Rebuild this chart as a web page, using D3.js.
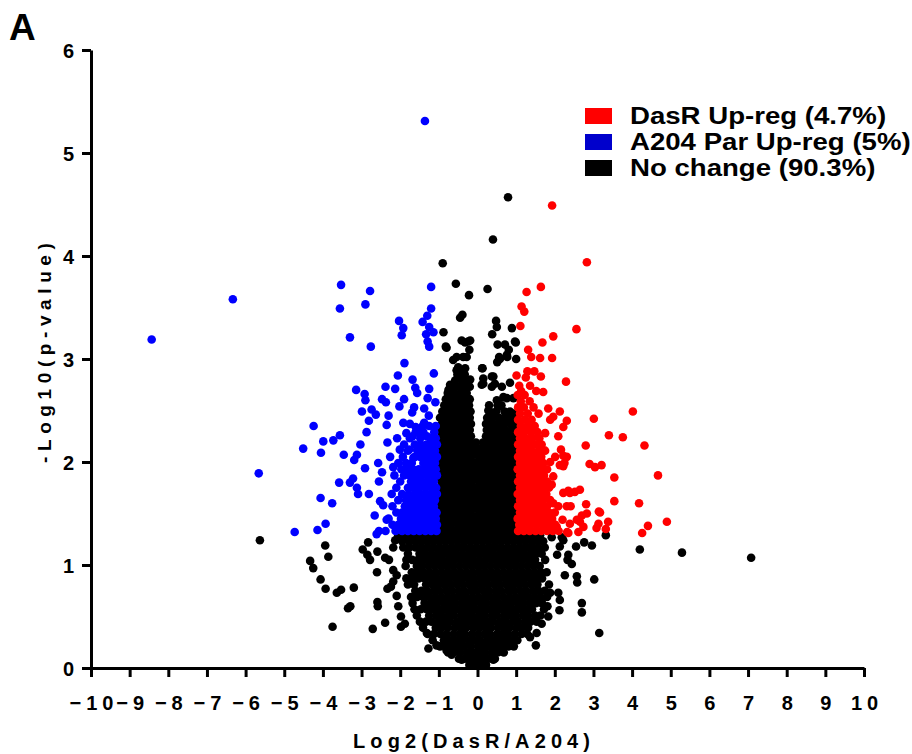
<!DOCTYPE html>
<html><head><meta charset="utf-8">
<script src="https://cdn.jsdelivr.net/npm/d3@7/dist/d3.min.js"></script>
<style>body{margin:0;background:#fff}svg{display:block}</style>
</head><body>
<svg id="chart" width="912" height="754"></svg>
<script>
// ---------- DATA ----------
const xTickValues = [-10,-9,-8,-7,-6,-5,-4,-3,-2,-1,0,1,2,3,4,5,6,7,8,9,10];
const yTickValues = [0,1,2,3,4,5,6];
const legendLabels = ["DasR Up-reg (4.7%)", "A204 Par Up-reg (5%)", "No change (90.3%)"];
const xTitle = "Log2(DasR/A204)";
const yTitle = "-Log10(p-value)";

// Up-regulated in DasR (red): scattered points [log2FC, -log10 p]
const redPoints = [
[1.93,4.49],[2.83,3.94],[1.64,3.70],[1.27,3.65],[1.14,3.51],[1.21,3.46],[1.11,3.32],[2.56,3.29],[1.96,3.22],[1.68,3.16],
[1.31,3.09],[1.39,3.02],[1.62,3.01],[1.93,3.01],[2.29,2.78],[1.01,2.84],[1.25,2.82],[1.29,2.88],[1.47,2.88],[1.64,2.83],
[1.52,2.69],[1.70,2.68],[1.13,2.69],[4.02,2.49],[3.01,2.42],[3.40,2.26],[3.76,2.24],[4.32,2.16],[2.80,2.16],[2.90,1.98],
[3.04,1.95],[3.21,1.97],[4.67,1.87],[3.54,1.85],[3.54,1.62],[4.18,1.60],[4.90,1.42],[4.41,1.38],[4.26,1.31],[3.14,1.52],
[3.38,1.42],[3.32,1.35],[3.08,1.36],[1.83,2.52],[2.13,2.49],[2.31,2.40],[2.22,2.34],[1.96,2.44],[1.88,2.41],[2.09,2.25],
[1.75,2.28],[2.22,2.06],[2.31,2.05],[2.01,2.05],[2.16,2.12],[2.22,1.96],[1.96,1.86],[1.92,1.78],[2.22,1.70],[2.35,1.72],
[2.52,1.71],[2.65,1.73],[2.81,1.59],[3.17,1.51],[2.41,1.57],[2.31,1.57],[2.65,1.42],[2.74,1.37],[2.61,1.32],[2.35,1.31],
[2.20,1.44],[2.01,1.39],[2.83,1.50],[2.70,1.48],[2.57,1.44],[2.39,1.40],[2.32,1.32],[2.05,1.37],[1.88,1.48],[1.96,1.60],
[2.09,1.57],[2.13,1.97],[2.25,1.99],[1.88,2.00],[3.13,1.40],[2.39,1.70]
];
// dense red band: [y, x values]
const redRows = [
[1.33,[1.05,1.2,1.35,1.5,1.65,1.8,1.95,2.1]],
[1.39,[1.08,1.23,1.38,1.53,1.68,1.83,2.0]],
[1.45,[1.04,1.18,1.33,1.48,1.63,1.78,1.93]],
[1.51,[1.1,1.25,1.4,1.55,1.7,1.85,2.0]],
[1.57,[1.05,1.2,1.35,1.5,1.65,1.8]],
[1.63,[1.1,1.25,1.4,1.55,1.7,1.88]],
[1.69,[1.04,1.18,1.33,1.48,1.63,1.78]],
[1.75,[1.1,1.25,1.4,1.55,1.7,1.85]],
[1.81,[1.05,1.2,1.35,1.5,1.65,1.8]],
[1.87,[1.1,1.25,1.4,1.55,1.72]],
[1.93,[1.04,1.18,1.33,1.48,1.63,1.8]],
[1.99,[1.1,1.25,1.4,1.55,1.7]],
[2.05,[1.05,1.2,1.35,1.5,1.65]],
[2.11,[1.1,1.25,1.4,1.58,1.75]],
[2.17,[1.05,1.2,1.35,1.5,1.66]],
[2.23,[1.1,1.25,1.42,1.6]],
[2.29,[1.05,1.2,1.38,1.55]],
[2.35,[1.12,1.3,1.48]],
[2.41,[1.05,1.22,1.4]],
[2.47,[1.1,1.3,1.58]],
[2.53,[1.05,1.2,1.45]],
[2.59,[1.12,1.35]],
[2.65,[1.04,1.22]],
[2.74,[1.08,1.36]]
];

// Up-regulated in A204 parental (blue)
const bluePoints = [
[-1.36,5.31],[-8.43,3.19],[-6.33,3.58],[-5.66,1.89],[-4.73,1.32],[-4.51,2.13],[-4.24,2.35],[-4.14,1.34],[-4.06,1.65],[-4.05,2.09],
[-3.99,2.20],[-3.93,1.40],[-3.76,1.60],[-3.73,2.21],[-3.58,1.80],[-3.56,2.26],[-3.53,3.72],[-3.56,3.49],[-3.46,2.07],[-3.30,3.21],
[-3.30,1.80],[-3.22,1.84],[-3.19,2.02],[-3.14,2.70],[-3.12,2.07],[-3.12,1.75],[-3.09,1.69],[-3.03,2.17],[-2.99,2.49],[-2.92,2.66],
[-2.91,1.94],[-2.90,3.53],[-2.90,2.60],[-2.87,2.29],[-2.81,2.40],[-2.81,1.69],[-2.78,3.66],[-2.76,3.12],[-2.74,2.51],[-2.66,1.48],
[-2.63,2.46],[-2.61,1.30],[-2.57,1.99],[-2.55,1.81],[-2.52,1.62],[-2.47,2.61],[-2.47,1.90],[-2.44,1.58],[-2.38,2.73],[-2.37,2.58],
[-2.35,2.36],[-2.35,1.44],[-2.33,2.19],[-2.30,2.45],[-2.26,2.05],[-2.18,1.95],[-2.13,2.71],[-2.08,2.23],[-2.06,2.84],[-2.03,3.37],
[-2.02,2.54],[-2.01,2.12],[-1.96,3.23],[-1.92,3.30],[-1.92,2.38],[-1.90,2.61],[-1.89,2.96],[-1.84,2.28],[-1.77,2.12],[-1.75,2.37],
[-1.69,2.48],[-1.68,2.80],[-1.68,2.25],[-1.66,2.04],[-1.64,2.53],[-1.61,2.72],[-1.60,2.34],[-1.56,2.67],[-1.56,2.12],[-1.50,2.29],
[-1.42,3.36],[-1.38,2.52],[-1.38,2.38],[-1.36,2.12],[-1.33,3.24],[-1.31,2.25],[-1.30,3.42],[-1.29,3.17],[-1.29,2.62],[-1.26,2.45],
[-1.25,3.31],[-1.25,3.12],[-1.25,2.71],[-1.20,3.70],[-1.20,3.49],[-1.14,3.26],[-1.13,2.86],[-1.09,2.58]
];
const blueRows = [
[1.33,[-2.55,-2.38,-2.12,-1.95,-1.8,-1.65,-1.5,-1.35,-1.2,-1.06]],
[1.39,[-2.2,-2.05,-1.9,-1.75,-1.6,-1.45,-1.3,-1.15,-1.05]],
[1.45,[-2.3,-1.98,-1.83,-1.68,-1.53,-1.38,-1.23,-1.08]],
[1.51,[-2.1,-1.95,-1.8,-1.65,-1.5,-1.35,-1.2,-1.06]],
[1.57,[-2.2,-1.88,-1.72,-1.58,-1.43,-1.28,-1.13]],
[1.63,[-2.05,-1.85,-1.7,-1.55,-1.4,-1.25,-1.1]],
[1.69,[-2.22,-1.95,-1.78,-1.62,-1.48,-1.33,-1.18,-1.05]],
[1.75,[-2.1,-1.8,-1.65,-1.5,-1.35,-1.2,-1.07]],
[1.81,[-2.0,-1.72,-1.58,-1.43,-1.28,-1.13]],
[1.87,[-2.15,-1.9,-1.75,-1.6,-1.45,-1.3,-1.15,-1.05]],
[1.93,[-1.97,-1.82,-1.67,-1.52,-1.37,-1.22,-1.08]],
[1.99,[-2.05,-1.85,-1.7,-1.4,-1.25,-1.1]],
[2.05,[-1.93,-1.62,-1.48,-1.33,-1.18,-1.05]],
[2.11,[-1.8,-1.55,-1.4,-1.25,-1.1]],
[2.17,[-1.9,-1.62,-1.47,-1.32,-1.17,-1.05]],
[2.23,[-1.75,-1.48,-1.22,-1.08]],
[2.29,[-1.6,-1.4,-1.12]],
[2.35,[-1.42,-1.25,-1.08]]
];

// No change (black)
const blackPoints = [
[0.79,4.57],[0.40,4.16],[-0.90,3.93],[-0.56,3.73],[-0.22,3.62],[0.26,3.68],[-0.45,3.40],[-0.39,3.43],[-0.88,3.26],[-0.82,3.12],
[0.48,3.37],[0.50,3.31],[0.38,3.24],[0.89,3.30],[0.99,3.16],[0.52,3.14],[0.71,3.14],[0.81,3.09],[0.58,3.00],[0.51,2.97],
[1.00,3.00],[0.76,3.04],[0.13,2.91],[-0.32,3.16],[-0.19,3.18],[-0.21,3.09],[-0.37,3.02],[-0.63,2.99],[-0.54,2.89],[-0.45,2.83],
[0.37,2.83],[0.45,2.76],[0.63,2.73],[0.84,2.77],[0.93,2.62],[0.67,2.63],[0.50,2.60],[0.15,2.76],[0.28,2.50],[-0.41,3.18],
[-0.24,3.17],[-0.28,3.02],[-0.54,3.02],[-0.50,2.92],[-0.32,2.91],[-0.41,2.88],[-0.50,2.83],[-0.19,2.80],[-0.28,2.73],[-0.71,2.75],
[-0.75,2.70],[-0.37,2.70],[0.12,2.91],[0.15,2.81],[0.11,2.75],[0.41,2.83],[0.37,2.73],[0.76,2.62],[0.93,2.47],[0.58,2.54],
[0.56,3.02],[0.77,3.02],[0.97,3.17],[-0.80,3.11],
[-5.63,1.24],[-3.94,1.19],[-3.86,1.08],[-4.33,1.04],[-4.25,0.97],[-4.06,0.86],[-3.93,0.77],[-3.64,0.73],[-3.53,0.76],[-3.20,0.78],
[-3.35,0.58],[-3.29,0.60],[-3.75,0.40],[-2.71,0.38],[-2.59,0.64],[-2.58,0.60],[-2.39,0.44],[-2.60,0.93],[-2.97,1.15],[-2.83,1.22],
[-2.78,1.05],[-2.85,1.10],[-2.59,1.13],[-2.39,1.07],[-2.29,1.05],[-2.33,0.77],[-2.24,0.79],[-2.09,0.70],[-2.05,0.60],[-1.98,0.50],
[-1.98,0.40],[-1.88,0.43],[-2.18,1.17],[-2.13,1.24],[-2.01,1.27],[-1.88,1.29],[-2.18,0.95],[-2.09,0.90],[-2.18,0.84],[-1.31,0.34],
[-1.27,0.19],[-1.06,0.22],[-0.80,0.17],[-0.67,0.13],[-0.41,0.08],
[3.32,1.29],[4.20,1.15],[5.29,1.12],[7.08,1.07],[3.02,0.86],[2.70,0.63],[2.70,0.54],[3.15,0.34],[2.57,0.89],[2.58,0.83],
[2.55,1.18],[2.76,1.22],[2.96,1.19],[2.35,1.10],[2.33,1.05],[2.44,1.01],[2.06,1.10],[2.12,0.56],[2.22,1.24],[2.13,1.18],
[1.92,1.27],[2.18,1.27],[2.26,0.90],[2.09,0.73],[2.13,0.66],[1.88,0.73],[1.81,0.60],[1.83,0.50],[1.66,0.43],[1.53,0.34],
[1.51,0.22],[1.36,0.30],[0.84,0.26],[0.58,0.16],[0.41,0.08]
];
const blackRows = [
[0.03,[-0.21,-0.07,0.08,0.22]],
[0.09,[-0.48,-0.33,-0.18,-0.02,0.13,0.29,0.45]],
[0.15,[-0.76,-0.61,-0.45,-0.28,-0.12,0.04,0.2,0.37,0.52,0.68]],
[0.21,[-0.97,-0.83,-0.66,-0.5,-0.34,-0.17,0.01,0.15,0.31,0.48,0.64,0.8,0.94]],
[0.27,[-1.16,-0.87,-0.71,-0.57,-0.4,-0.23,-0.09,0.07,0.25,0.41,0.55,0.71,0.89,1.03]],
[0.33,[-1.29,-1.13,-0.96,-0.8,-0.62,-0.46,-0.32,-0.14,0.02,0.18,0.32,0.5,0.66,0.8,0.97,1.14,1.29]],
[0.39,[-1.41,-1.08,-0.93,-0.77,-0.59,-0.43,-0.29,-0.11,0.05,0.21,0.35,0.53,0.69,0.83,1.01,1.15,1.31]],
[0.45,[-1.49,-1.33,-1.19,-1.01,-0.85,-0.71,-0.53,-0.37,-0.21,-0.05,0.11,0.27,0.41,0.59,0.73,0.91,1.05,1.23,1.37,1.53]],
[0.51,[-1.57,-1.25,-1.07,-0.93,-0.75,-0.61,-0.43,-0.27,-0.13,0.05,0.19,0.37,0.51,0.69,0.85,0.99,1.17,1.31,1.49,1.63]],
[0.57,[-1.63,-1.47,-1.31,-1.15,-0.99,-0.83,-0.67,-0.51,-0.35,-0.19,-0.03,0.13,0.29,0.45,0.61,0.77,0.93,1.09,1.25,1.41,1.72]],
[0.63,[-1.68,-1.37,-1.2,-1.05,-0.88,-0.72,-0.57,-0.4,-0.24,-0.09,0.08,0.23,0.4,0.55,0.72,0.87,1.04,1.19,1.36,1.51,1.67]],
[0.69,[-1.72,-1.56,-1.41,-1.25,-1.09,-0.93,-0.77,-0.61,-0.45,-0.29,-0.13,0.03,0.19,0.35,0.51,0.67,0.83,0.99,1.15,1.31,1.47,1.63,1.8]],
[0.75,[-1.61,-1.45,-1.3,-1.13,-0.98,-0.81,-0.66,-0.49,-0.34,-0.17,-0.02,0.15,0.3,0.47,0.62,0.79,0.94,1.11,1.26,1.43,1.58,1.74]],
[0.81,[-1.8,-1.64,-1.33,-1.17,-1.01,-0.85,-0.69,-0.53,-0.37,-0.21,-0.05,0.11,0.27,0.43,0.59,0.75,0.91,1.07,1.23,1.39,1.55,1.85]],
[0.87,[-1.84,-1.68,-1.52,-1.37,-1.2,-1.05,-0.88,-0.73,-0.56,-0.41,-0.24,-0.09,0.08,0.23,0.4,0.55,0.72,0.87,1.04,1.19,1.36,1.51,1.67]],
[0.93,[-1.7,-1.55,-1.4,-1.24,-1.08,-0.92,-0.76,-0.6,-0.44,-0.28,-0.12,0.04,0.2,0.36,0.52,0.68,0.84,1.0,1.16,1.32,1.48,1.64,1.79]],
[0.99,[-1.86,-1.57,-1.43,-1.27,-1.11,-0.95,-0.79,-0.63,-0.47,-0.31,-0.15,0.01,0.17,0.33,0.49,0.65,0.81,0.97,1.13,1.29,1.45,1.61]],
[1.05,[-1.84,-1.69,-1.54,-1.39,-1.23,-1.07,-0.91,-0.75,-0.59,-0.43,-0.27,-0.11,0.05,0.21,0.37,0.53,0.69,0.85,1.01,1.17,1.33,1.49,1.75]],
[1.11,[-1.8,-1.5,-1.35,-1.19,-1.03,-0.87,-0.71,-0.55,-0.39,-0.23,-0.07,0.09,0.25,0.41,0.57,0.73,0.89,1.05,1.21,1.37,1.52,1.66]],
[1.17,[-1.92,-1.76,-1.6,-1.44,-1.29,-1.13,-0.97,-0.81,-0.65,-0.49,-0.33,-0.17,-0.01,0.15,0.31,0.47,0.63,0.79,0.95,1.11,1.27,1.43,1.57,1.74]],
[1.23,[-1.95,-1.78,-1.62,-1.47,-1.31,-1.16,-1.0,-0.84,-0.68,-0.52,-0.36,-0.2,-0.04,0.12,0.28,0.44,0.6,0.76,0.92,1.08,1.24,1.4,1.56,1.7]],
[1.29,[-2.05,-1.86,-1.7,-1.55,-1.4,-1.24,-1.08,-0.93,-0.77,-0.61,-0.45,-0.29,-0.13,0.03,0.19,0.35,0.51,0.67,0.83,0.99,1.15,1.3,1.46,1.62]],
[1.35,[-0.99,-0.84,-0.68,-0.52,-0.36,-0.2,-0.05,0.09,0.24,0.4,0.56,0.72,0.88,0.99]],
[1.41,[-0.93,-0.77,-0.61,-0.45,-0.29,-0.14,0.02,0.17,0.33,0.49,0.65,0.81,0.96]],
[1.47,[-0.98,-0.83,-0.67,-0.51,-0.36,-0.2,-0.06,0.1,0.25,0.41,0.57,0.73,0.89,0.99]],
[1.53,[-0.94,-0.78,-0.62,-0.46,-0.3,-0.16,0.03,0.18,0.34,0.5,0.66,0.82,0.97]],
[1.59,[-0.99,-0.85,-0.69,-0.53,-0.37,-0.21,-0.05,0.1,0.23,0.39,0.55,0.71,0.87,0.99]],
[1.65,[-0.92,-0.76,-0.6,-0.44,-0.28,-0.13,0.02,0.17,0.3,0.46,0.62,0.78,0.94]],
[1.71,[-0.98,-0.84,-0.68,-0.52,-0.36,-0.2,-0.06,0.09,0.24,0.38,0.54,0.7,0.86,0.99]],
[1.77,[-0.93,-0.77,-0.61,-0.45,-0.29,-0.14,0.03,0.17,0.31,0.47,0.63,0.79,0.95]],
[1.83,[-0.99,-0.85,-0.69,-0.53,-0.37,-0.21,-0.05,0.09,0.23,0.39,0.55,0.71,0.87,0.99]],
[1.89,[-0.92,-0.76,-0.6,-0.44,-0.28,-0.14,0.02,0.16,0.3,0.46,0.62,0.78,0.94]],
[1.95,[-0.98,-0.83,-0.67,-0.51,-0.35,-0.2,-0.05,0.1,0.24,0.38,0.54,0.7,0.86,0.99]],
[2.01,[-0.93,-0.77,-0.61,-0.45,-0.29,-0.15,0.03,0.17,0.31,0.47,0.63,0.79,0.95]],
[2.07,[-0.99,-0.84,-0.68,-0.52,-0.36,-0.2,-0.04,0.12,0.23,0.39,0.55,0.71,0.87,0.99]],
[2.13,[-0.92,-0.76,-0.6,-0.44,-0.28,-0.15,0.02,0.18,0.3,0.46,0.62,0.78,0.94]],
[2.19,[-0.98,-0.83,-0.67,-0.51,-0.35,-0.2,-0.04,0.14,0.24,0.38,0.54,0.7,0.86,0.98]],
[2.25,[-0.93,-0.77,-0.61,-0.45,-0.29,-0.17,0.22,0.31,0.47,0.63,0.79,0.94]],
[2.31,[-0.99,-0.84,-0.68,-0.52,-0.36,-0.2,0.24,0.4,0.56,0.72,0.88,0.97]],
[2.37,[-0.92,-0.76,-0.6,-0.44,-0.28,-0.17,0.22,0.37,0.53,0.69,0.85,0.95]],
[2.43,[-0.97,-0.83,-0.67,-0.51,-0.35,-0.2,0.25,0.4,0.56,0.72,0.86]],
[2.49,[-0.91,-0.76,-0.6,-0.44,-0.28,-0.18,0.32,0.48,0.7,0.84]],
[2.55,[-0.86,-0.7,-0.54,-0.38,-0.22,0.3,0.52,0.62]],
[2.61,[-0.82,-0.66,-0.5,-0.34,-0.2]],
[2.67,[-0.77,-0.6,-0.44,-0.28]],
[2.73,[-0.66,-0.5,-0.34,-0.2]],
[2.79,[-0.58,-0.4,-0.25]],
[2.85,[-0.52,-0.33]]
];

// ---------- CHART ----------
const colors = {up:"#ff0000", par:"#0000ff", none:"#000000"};
const legendColors = ["#ff0000", "#0000cc", "#000000"];
const svg = d3.select("#chart");
const margin = {left:91, right:48, top:50, bottom:86};
const W = 912, H = 754;
const x = d3.scaleLinear().domain([-10,10]).range([margin.left, W - margin.right]);
const y = d3.scaleLinear().domain([0,6]).range([H - margin.bottom, margin.top]);

function expand(points, rows){
  const out = points.map(p => ({x:p[0], y:p[1]}));
  rows.forEach(r => r[1].forEach(v => out.push({x:v, y:r[0]})));
  return out;
}
const series = [
  {key:"none", data: expand(blackPoints, blackRows)},
  {key:"par", data: expand(bluePoints, blueRows)},
  {key:"up", data: expand(redPoints, redRows)}
];

const R = 4.3;
series.forEach(s => {
  svg.append("g").selectAll("circle").data(s.data).join("circle")
    .attr("cx", d => x(d.x)).attr("cy", d => y(d.y)).attr("r", R)
    .attr("fill", colors[s.key]);
});

// axes
const font = "'Liberation Sans', Arial, sans-serif";
const xAxis = svg.append("g").attr("transform", `translate(0,${y(0)})`)
  .call(d3.axisBottom(x).tickValues(xTickValues).tickSize(9).tickSizeOuter(0).tickPadding(21).tickFormat(d3.format("d")));
const yAxis = svg.append("g").attr("transform", `translate(${x(-10)},0)`)
  .call(d3.axisLeft(y).tickValues(yTickValues).tickSize(9).tickSizeOuter(0).tickPadding(8).tickFormat(d3.format("d")));
[xAxis, yAxis].forEach(a => {
  a.select(".domain").attr("stroke", "#000").attr("stroke-width", 3);
  a.selectAll(".tick line").attr("stroke", "#000").attr("stroke-width", 3);
  a.selectAll("text").attr("fill", "#000").style("font-family", font)
    .style("font-weight", "bold").style("font-size", "20px");
});
xAxis.selectAll("text").style("letter-spacing", "5px").attr("dx", "2.5px").attr("dy", "0.6em");
yAxis.selectAll("text").attr("dy", "0.36em");

// axis titles
svg.append("text").attr("x", 353).attr("y", 748)
  .attr("text-anchor", "start").style("font-family", font).style("font-weight", "bold")
  .style("font-size", "20px").style("letter-spacing", "5.1px").text(xTitle);
svg.append("text").attr("transform", `translate(51,463) rotate(-90)`)
  .attr("text-anchor", "start").style("font-family", font).style("font-weight", "bold")
  .style("font-size", "19px").style("letter-spacing", "5.6px").text(yTitle);

// panel letter
svg.append("text").attr("x", 9).attr("y", 40).style("font-family", font)
  .style("font-weight", "bold").style("font-size", "37px").text("A");

// legend
const lg = svg.append("g").attr("transform", "translate(585,108)");
legendLabels.forEach((t, i) => {
  lg.append("rect").attr("x", 0).attr("y", i*26).attr("width", 27).attr("height", 16).attr("fill", legendColors[i]);
  lg.append("text").attr("transform", `translate(45,${i*25.7 + 16.3}) scale(1.15,1)`)
    .style("font-family", font).style("font-weight", "bold").style("font-size", "24px").text(t);
});
</script>
</body></html>
